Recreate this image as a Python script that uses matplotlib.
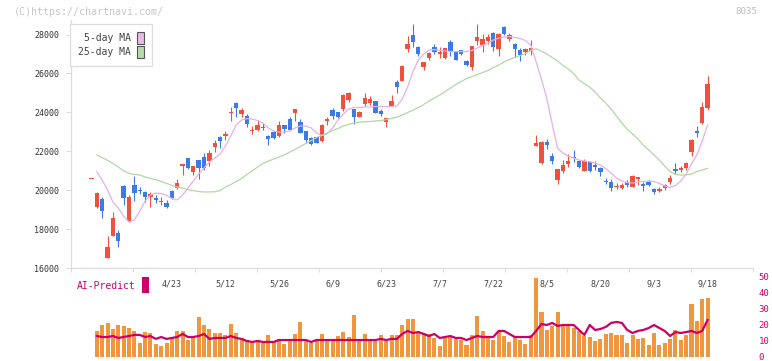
import numpy as np
import matplotlib.pyplot as plt
from matplotlib.patches import Patch, Rectangle

plt.rcParams['font.family'] = 'DejaVu Sans Mono'

# daily candles, index 0 = 4/2 ... index 115 = 9/18
opens = [20600, 19150, 19550, 16530, 17660, 17800, 20210, 18420, 20270, 20020,
         19900, 19670, 19580, 19380, 19340, 19970, 20100, 21260, 21650, 20950,
         21540, 21690, 21520, 22240, 22750, 22790, 23990, 24500, 23920, 23810,
         23040, 23090, 23260, 22790, 23000, 22790, 23350, 23640, 23980, 23500,
         23040, 22670, 22720, 22530, 23570, 24120, 24020, 24160, 24640, 24190,
         23780, 24450, 24460, 24580, 24050, 23520, 24340, 25580, 25630, 27260,
         27980, 27380, 26330, 26810, 27380, 26990, 26780, 27630, 27150, 27200,
         26640, 26350, 27690, 27460, 27690, 28090, 27260, 28370, 27770, 27510,
         27200, 27120, 27170, 22290, 21380, 22490, 21770, 20520, 20990, 21350,
         21720, 21510, 21000, 21460, 21280, 21120, 20490, 20440, 20150, 20100,
         20400, 20180, 20590, 20320, 20440, 20060, 19970, 20100, 20400, 21090,
         21050, 21120, 21980, 23040, 23440, 24240]
highs = [20600, 19900, 19660, 17630, 18880, 17950, 20280, 19750, 20730, 20150,
         19960, 19930, 19760, 19630, 19500, 20010, 20575, 21360, 21660, 21250,
         21550, 21900, 22060, 22580, 22790, 23040, 24290, 24550, 24220, 23920,
         23310, 23610, 23470, 22840, 23060, 23560, 23360, 23780, 24180, 23640,
         23050, 22720, 22740, 23400, 23750, 24210, 24030, 24930, 25050, 24190,
         24070, 24980, 24860, 24590, 24170, 23730, 24890, 25660, 26430, 27920,
         28520, 27430, 26610, 27080, 27500, 27380, 27300, 27700, 27160, 27210,
         26690, 27420, 28540, 28010, 28030, 28150, 28100, 28440, 28060, 27580,
         27290, 27290, 27720, 22840, 22530, 22630, 21900, 21080, 21550, 21840,
         22060, 21570, 21600, 21510, 21510, 21210, 20640, 20570, 20350, 20380,
         20520, 20780, 20700, 20430, 20520, 20130, 20150, 20320, 20780, 21410,
         21240, 21460, 22630, 23300, 24550, 25880]
lows = [20600, 19100, 18590, 16530, 17640, 17100, 19240, 18360, 19460, 19800,
        19410, 19150, 19360, 19240, 19070, 19530, 20050, 20770, 21070, 20800,
        20560, 21040, 21260, 21980, 22170, 22580, 23570, 23780, 23750, 23260,
        22890, 23060, 23090, 22320, 22630, 22750, 22920, 23090, 23560, 22920,
        22410, 22330, 22420, 22460, 23350, 23640, 23700, 24070, 24550, 23400,
        23750, 24350, 24380, 23970, 23820, 23260, 24340, 25010, 25600, 27120,
        27380, 26900, 26180, 26690, 26980, 26810, 26750, 26910, 26680, 26940,
        26400, 26180, 27460, 27120, 27500, 27170, 26910, 27980, 27680, 26830,
        26660, 26950, 26950, 22290, 21330, 22120, 21340, 20320, 20860, 21190,
        21460, 21120, 21000, 20960, 21040, 20750, 20320, 19970, 20060, 20060,
        20180, 20180, 20270, 19970, 20230, 19800, 19920, 20010, 20320, 20830,
        20960, 21040, 21770, 22750, 23400, 24120]
closes = [20600, 19870, 18930, 17080, 18570, 17390, 19620, 19630, 19870, 19980,
          19660, 19830, 19480, 19460, 19150, 19590, 20390, 21330, 21160, 21240,
          21160, 21130, 21930, 22410, 22550, 22890, 24030, 24210, 24120, 23400,
          23090, 23350, 23180, 22650, 22670, 23350, 23140, 23100, 24170, 22960,
          22580, 22370, 22440, 23350, 23660, 23810, 23750, 24890, 25000, 23780,
          24020, 24720, 24700, 23990, 23930, 23720, 24580, 25320, 26380, 27510,
          27630, 26990, 26600, 27070, 27120, 27120, 27290, 27120, 26690, 26990,
          26430, 27410, 27860, 27770, 27860, 27380, 28030, 28030, 27980, 27260,
          26950, 27240, 27320, 22440, 22490, 22320, 21510, 21070, 21290, 21510,
          21640, 21190, 21510, 21000, 21210, 20920, 20410, 20100, 20230, 20270,
          20250, 20730, 20690, 20230, 20270, 19920, 20060, 20270, 20640, 21000,
          21160, 21410, 22580, 22960, 24290, 25460]

# series below start at index 1
ma5 = [20950, 20520, 20010, 19390, 19080, 18670, 18360, 18470, 18930, 19440,
       19750, 19850, 19830, 19730, 19570, 19500, 19750, 20110, 20470, 20830,
       21140, 21450, 21650, 21860, 22270, 22790, 23350, 23610, 23680, 23660,
       23580, 23450, 23200, 23040, 22990, 22990, 23040, 23200, 23300, 23300,
       23200, 22940, 22810, 22890, 23200, 23610, 23920, 24170, 24250, 24250,
       24280, 24280, 24300, 24300, 24300, 24300, 24330, 24680, 25300, 26100,
       26680, 27000, 27200, 27230, 27200, 27150, 27130, 27130, 27130, 27130,
       27180, 27310, 27440, 27560, 27720, 27820, 27870, 27900, 27850, 27800,
       27690, 27460, 26600, 25700, 24700, 23400, 22150, 21910, 21760, 21650,
       21550, 21500, 21460, 21400, 21290, 21110, 20880, 20630, 20470, 20390,
       20370, 20420, 20450, 20470, 20450, 20350, 20220, 20140, 20240, 20470,
       20830, 21350, 21810, 22530, 23350]
ma25 = [21810, 21680, 21530, 21370, 21190, 20990, 20870, 20810, 20780, 20680,
        20600, 20540, 20450, 20350, 20240, 20160, 20110, 20030, 19980, 19930,
        19910, 19910, 19920, 19980, 20160, 20290, 20450, 20600, 20810, 20990,
        21190, 21370, 21500, 21600, 21700, 21810, 21960, 22090, 22250, 22400,
        22550, 22710, 22810, 22940, 23070, 23170, 23300, 23380, 23450, 23500,
        23520, 23530, 23560, 23580, 23630, 23690, 23760, 23860, 23990, 24120,
        24250, 24400, 24580, 24740, 24890, 25070, 25250, 25430, 25590, 25740,
        25840, 25950, 26050, 26150, 26310, 26430, 26590, 26720, 26820, 26920,
        27030, 27180, 27270, 27150, 27000, 26820, 26640, 26410, 26230, 26000,
        25660, 25480, 25300, 25050, 24740, 24480, 24170, 23810, 23450, 23140,
        22890, 22630, 22320, 22070, 21810, 21550, 21240, 20960, 20810, 20780,
        20790, 20830, 20960, 21040, 21120]
volume = [16.3, 20, 21.3, 17.5, 20, 19.4, 18.1, 16.3, 8.8, 15.6,
          15, 8.1, 6.9, 8.8, 12.5, 16.3, 16.3, 10.6, 13.1, 25,
          20, 17.5, 15, 15, 13.8, 20.6, 15, 11.9, 10.6, 8.8,
          10.6, 8.8, 13.8, 10, 11.3, 8.1, 10, 14.4, 21.9, 10,
          8.8, 11.3, 14.4, 11.3, 11.3, 13.1, 15.6, 12.5, 26.3, 11.3,
          14.4, 11.3, 10, 13.8, 10, 13.8, 13.8, 20, 23.8, 23.8,
          15.6, 15, 14.4, 11.9, 6.9, 11.9, 12.5, 11, 10.6, 7.5,
          13.8, 25.6, 16.3, 12.5, 10.6, 16.3, 13.1, 9.4, 11.9, 10.6,
          8.1, 13.8, 49.4, 28, 16.9, 19.4, 28, 19.4, 20, 18.1,
          16.3, 13.1, 12.5, 10, 11.3, 14.4, 15, 13.8, 13.8, 8.8,
          13.8, 11.3, 11.9, 7.5, 15, 7.5, 8.8, 11.3, 16.9, 10.6,
          13.8, 33.1, 22.5, 36.3, 36.9]
ai_predict = [13.1, 12.5, 12.5, 13.1, 11.9, 12.5, 13.1, 13.8, 13.8, 12.5,
              13.1, 11.3, 12.5, 11.3, 11.9, 12.5, 14.4, 12.5, 12.5, 13.1,
              14.4, 11.3, 11.9, 11.9, 11.9, 13.1, 11.9, 11.3, 10, 9.4,
              10, 9.4, 9.4, 9.4, 10.6, 10.6, 10.6, 10.6, 10.6, 10.6,
              9.4, 10.6, 10.6, 10.6, 10.6, 10.6, 10.6, 10.6, 10.6, 10.6,
              10.6, 10.6, 10.6, 11.3, 10.6, 11.3, 11.3, 14.4, 16.3, 15,
              15.6, 14.4, 13.1, 14.4, 11.9, 12.5, 13.1, 11.9, 11.9, 10.6,
              11.9, 13.1, 12.5, 12.5, 12.5, 16.3, 16.3, 14.4, 12.5, 12.5,
              12.5, 12.5, 16.3, 20.6, 20, 21.3, 19.4, 20, 20, 20,
              16.9, 13.8, 20, 16.9, 17.5, 18.8, 21.3, 21.9, 21.3, 16.9,
              15, 16.3, 16.9, 18.1, 20, 18.1, 16.3, 13.1, 15.6, 15,
              15.6, 16.3, 15, 16.3, 23.1]

date_pos = [15, 25, 35, 45, 55, 65, 75, 85, 95, 105, 115]
date_labels = ['4/23', '5/12', '5/26', '6/9', '6/23', '7/7', '7/22', '8/5', '8/20', '9/3', '9/18']

RED = '#f0503c'
BLUE = '#3c7ae8'
GRID = '#dddddd'
MAGENTA = '#cc0066'

W, H = 772, 361
def px_box(x0, y0, x1, y1):
    return [x0 / W, 1 - y1 / H, (x1 - x0) / W, (y1 - y0) / H]

fig = plt.figure(figsize=(W / 100, H / 100), dpi=100)
ax2 = fig.add_axes(px_box(71, 277, 753, 357))
ax = fig.add_axes(px_box(71, 20, 753, 268))
ax.patch.set_alpha(0)
ax2.patch.set_alpha(0)
xlim = (-3.83, 123.48)

# candles
x = np.arange(len(closes))
o = np.array(opens)
c = np.array(closes)
cols = np.where(c >= o, RED, BLUE)
ax.vlines(x, lows, highs, colors=cols, linewidth=0.8)
ax.bar(x, np.maximum(np.abs(c - o), 50), bottom=np.minimum(o, c), width=0.82,
       color=cols, linewidth=0)

xs = np.arange(1, len(closes))
ax.plot(xs, ma5, color='#e6b0e6', lw=0.9)
ax.plot(xs, ma25, color='#b0d8a4', lw=0.9)

ax.set_xlim(*xlim)
ax.set_ylim(16000, 28750)
ax.set_yticks(range(16000, 28001, 2000))
ax.tick_params(axis='y', length=3.6, width=0.8, color=GRID, labelsize=6,
               labelcolor='#333333', pad=5)
ax.set_xticks(np.linspace(xlim[0], xlim[1], 12))
ax.set_xticklabels([])
ax.set_xticks(date_pos, date_labels, minor=True)
ax.tick_params(axis='x', which='major', length=3.2, width=0.8, color=GRID)
ax.tick_params(axis='x', which='minor', length=0, pad=8.2, labelsize=6, labelcolor='#444444')
for s in ['top', 'right']:
    ax.spines[s].set_visible(False)
for s in ['left', 'bottom']:
    ax.spines[s].set_color(GRID)
    ax.spines[s].set_linewidth(0.9)

handles = [Patch(facecolor='#eab8ea', edgecolor='#555555', linewidth=0.8),
           Patch(facecolor='#b8dcb0', edgecolor='#555555', linewidth=0.8)]
leg = ax.legend(handles, ['5-day MA', '25-day MA'], loc='upper left',
                bbox_to_anchor=(-0.0015, 0.984), markerfirst=False, fancybox=False,
                framealpha=1, edgecolor=GRID, fontsize=7, labelcolor='#444444',
                handlelength=0.7, handleheight=1.6, labelspacing=0.15,
                borderpad=0.8, handletextpad=0.7, borderaxespad=0)
leg.get_frame().set_linewidth(0.9)

# lower panel
ax2.bar(xs, volume, width=0.75, color='#f0963c', linewidth=0)
ax2.plot(xs, ai_predict, color=MAGENTA, lw=1.6)
ax2.set_xlim(*xlim)
ax2.set_ylim(0, 50)
ax2.yaxis.tick_right()
ax2.set_yticks(range(0, 51, 10))
ax2.tick_params(axis='y', length=0, pad=4, labelsize=6.5, labelcolor=MAGENTA)
ax2.set_xticks([])
for s in ax2.spines.values():
    s.set_visible(False)

fig.text(77 / W, 1 - 286 / H, 'AI-Predict', color=MAGENTA, fontsize=7, va='center')
fig.add_artist(Rectangle((142 / W, 1 - 293 / H), 7 / W, 16 / H,
                         transform=fig.transFigure, facecolor=MAGENTA, edgecolor='none'))
fig.text(14 / W, 1 - 12 / H, '(C)https://chartnavi.com/', color='#c8c8c8', fontsize=7.2, va='center')
fig.text(757 / W, 1 - 12 / H, '8035', color='#bbbbbb', fontsize=6.6, va='center', ha='right')

fig.savefig('out.png', dpi=100)
